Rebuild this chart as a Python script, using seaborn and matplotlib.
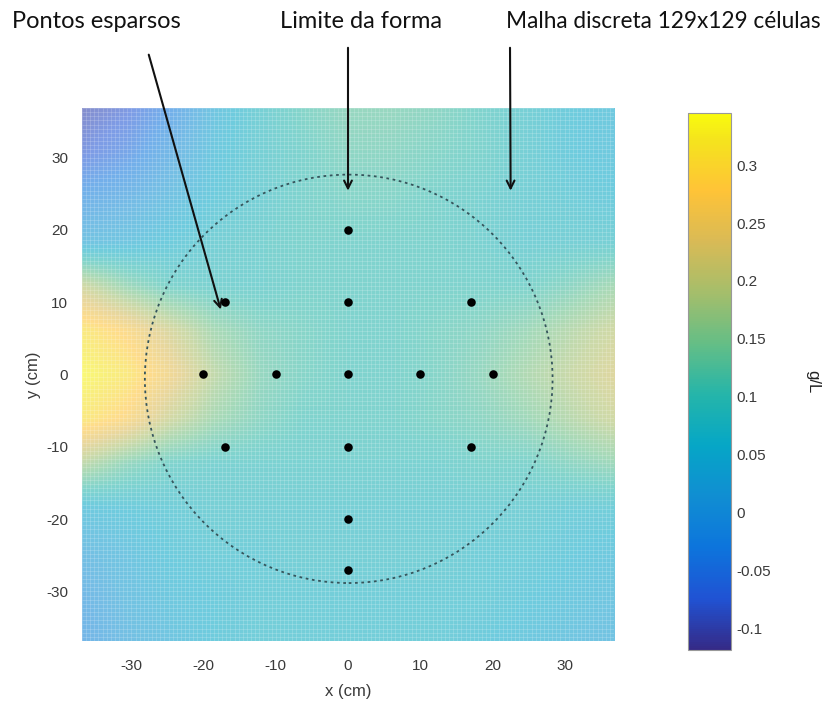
import numpy as np
import matplotlib
matplotlib.use("Agg")
import matplotlib.pyplot as plt
from matplotlib.colors import LinearSegmentedColormap
from matplotlib.patches import Circle
import seaborn as sns

# ---- data ----
grid_x = [-36.8, -30.67, -24.53, -18.4, -12.27, -6.13, 0.0, 6.13, 12.27, 18.4, 24.53, 30.67, 36.8]
grid_y = [36.8, 30.67, 24.53, 18.4, 12.27, 6.13, 0.0, -6.13, -12.27, -18.4, -24.53, -30.67, -36.8]
row_y36 = [-0.10, -0.08, -0.03, 0.04, 0.08, 0.11, 0.13, 0.13, 0.12, 0.10, 0.08, 0.06, 0.05]
row_y30 = [-0.08, -0.05, 0.00, 0.05, 0.08, 0.10, 0.12, 0.12, 0.11, 0.10, 0.08, 0.06, 0.05]
row_y24 = [-0.02, 0.00, 0.03, 0.06, 0.08, 0.10, 0.11, 0.11, 0.10, 0.09, 0.08, 0.07, 0.06]
row_y18 = [0.03, 0.04, 0.06, 0.08, 0.09, 0.10, 0.10, 0.10, 0.10, 0.09, 0.08, 0.08, 0.08]
row_y12 = [0.20, 0.14, 0.10, 0.09, 0.09, 0.10, 0.10, 0.10, 0.10, 0.10, 0.10, 0.12, 0.15]
row_y6 = [0.31, 0.27, 0.21, 0.15, 0.12, 0.11, 0.10, 0.10, 0.11, 0.12, 0.14, 0.17, 0.20]
row_y0 = [0.34, 0.31, 0.25, 0.18, 0.13, 0.11, 0.10, 0.10, 0.11, 0.13, 0.16, 0.19, 0.22]
row_ym6 = [0.31, 0.27, 0.20, 0.15, 0.12, 0.10, 0.10, 0.10, 0.11, 0.12, 0.14, 0.17, 0.20]
row_ym12 = [0.18, 0.13, 0.10, 0.09, 0.09, 0.09, 0.09, 0.09, 0.09, 0.10, 0.10, 0.12, 0.14]
row_ym18 = [0.05, 0.06, 0.07, 0.08, 0.08, 0.08, 0.08, 0.08, 0.08, 0.08, 0.08, 0.07, 0.07]
row_ym24 = [0.02, 0.04, 0.06, 0.07, 0.07, 0.08, 0.08, 0.08, 0.08, 0.07, 0.07, 0.06, 0.05]
row_ym30 = [0.00, 0.03, 0.05, 0.06, 0.07, 0.07, 0.07, 0.07, 0.07, 0.07, 0.06, 0.05, 0.04]
row_ym36 = [-0.01, 0.02, 0.04, 0.06, 0.07, 0.07, 0.07, 0.07, 0.07, 0.06, 0.05, 0.04, 0.03]
field_rows = [row_y36, row_y30, row_y24, row_y18, row_y12, row_y6, row_y0,
              row_ym6, row_ym12, row_ym18, row_ym24, row_ym30, row_ym36]
pts_x = [0, -17, 0, 17, -20, -10, 0, 10, 20, -17, 0, 17, 0, 0]
pts_y = [20, 10, 10, 10, 0, 0, 0, 0, 0, -10, -10, -10, -20, -27]
circle_center = (0.1, -0.6)
circle_radius = 28.2
n_cells = 129
vmin, vmax = -0.119, 0.345
cbar_ticks = [-0.1, -0.05, 0, 0.05, 0.1, 0.15, 0.2, 0.25, 0.3]
xticks = [-30, -20, -10, 0, 10, 20, 30]
yticks = [-30, -20, -10, 0, 10, 20, 30]
half = 36.8

# parula colormap (sampled)
parula_pts = [
    (0.2081, 0.1663, 0.5292), (0.1253, 0.3242, 0.8303), (0.0498, 0.4586, 0.8641),
    (0.0641, 0.5570, 0.8240), (0.0228, 0.6535, 0.7768), (0.1453, 0.7098, 0.6646),
    (0.3953, 0.7459, 0.5244), (0.6473, 0.7456, 0.4188), (0.8507, 0.7299, 0.3360),
    (0.9990, 0.7653, 0.2164), (0.9589, 0.8949, 0.1132), (0.9763, 0.9831, 0.0538)]
parula_pos = [0, 6, 12, 18, 24, 30, 36, 42, 48, 54, 60, 63]
parula = LinearSegmentedColormap.from_list(
    "parula", list(zip([p / 63 for p in parula_pos], parula_pts)))

sns.set_theme(style="white")
plt.rcParams['font.family'] = ['Liberation Sans', 'DejaVu Sans']
plt.rcParams['axes.unicode_minus'] = False

fig = plt.figure(figsize=(8.33, 7.11), dpi=100)
ax = fig.add_axes([0.0984, 0.0985, 0.6387, 0.7496])
cax = fig.add_axes([0.826, 0.0858, 0.0516, 0.755])

field = np.array(field_rows)
dx = (grid_x[1] - grid_x[0]) / 2
dy = (grid_y[0] - grid_y[1]) / 2
im = ax.imshow(field, cmap=parula, vmin=vmin, vmax=vmax, interpolation='bilinear',
               extent=(grid_x[0] - dx, grid_x[-1] + dx, grid_y[-1] - dy, grid_y[0] + dy),
               alpha=0.58, aspect='auto', zorder=1)

# discrete mesh lines
edges = np.linspace(-half, half, n_cells + 1)
ax.vlines(edges, -half, half, colors='white', linewidth=0.4, alpha=0.3, zorder=2)
ax.hlines(edges, -half, half, colors='white', linewidth=0.4, alpha=0.3, zorder=2)

circ = Circle(circle_center, circle_radius, fill=False, edgecolor='#35555c',
              linestyle=(0, (1.5, 2.0)), linewidth=1.3, zorder=3)
ax.add_patch(circ)

sns.scatterplot(x=pts_x, y=pts_y, ax=ax, color='black', s=38, edgecolor='black',
                linewidth=0, zorder=4, legend=False)

ax.set_xlim(-half, half)
ax.set_ylim(-half, half)
ax.set_xticks(xticks)
ax.set_yticks(yticks)
ax.tick_params(axis='x', labelsize=11, colors='#3a3a3a', length=0, pad=13)
ax.tick_params(axis='y', labelsize=11, colors='#3a3a3a', length=0, pad=10)
for s in ax.spines.values():
    s.set_visible(False)
ax.set_xlabel('x (cm)', fontsize=12, color='#3a3a3a', labelpad=8)
ax.set_ylabel('y (cm)', fontsize=12, color='#3a3a3a', labelpad=4)

cb = fig.colorbar(im, cax=cax, ticks=cbar_ticks)
cb.solids.set_alpha(1)
cb.ax.set_yticklabels(['%g' % t for t in cbar_ticks])
cb.ax.tick_params(labelsize=11, colors='#3a3a3a', length=3, direction='in', width=0.8)
cb.outline.set_edgecolor('#999999')
cb.outline.set_linewidth(0.8)
cb.set_label('g/L', rotation=270, fontsize=12, color='#222222', labelpad=36)

# annotations
tfont = dict(family=['Lato', 'DejaVu Sans'], color='#111111')
fig.text(12 / 833, 1 - 22 / 711, 'Pontos esparsos', ha='left', va='center', fontsize=17, **tfont)
fig.text(361 / 833, 1 - 22 / 711, 'Limite da forma', ha='center', va='center', fontsize=17, **tfont)
fig.text(506 / 833, 1 - 22 / 711, 'Malha discreta 129x129 células', ha='left', va='center',
         fontsize=16.3, **tfont)

arrow = dict(arrowstyle='->', color='#111111', lw=1.5, mutation_scale=14)
ax.annotate('', xy=(-17.5, 8.6), xycoords='data', xytext=(148 / 833, 1 - 52 / 711),
            textcoords='figure fraction', arrowprops=arrow, annotation_clip=False)
ax.annotate('', xy=(0, 25), xycoords='data', xytext=(348 / 833, 1 - 45 / 711),
            textcoords='figure fraction', arrowprops=arrow, annotation_clip=False)
ax.annotate('', xy=(22.5, 25), xycoords='data', xytext=(510 / 833, 1 - 45 / 711),
            textcoords='figure fraction', arrowprops=arrow, annotation_clip=False)

fig.savefig('out.png', dpi=100)
